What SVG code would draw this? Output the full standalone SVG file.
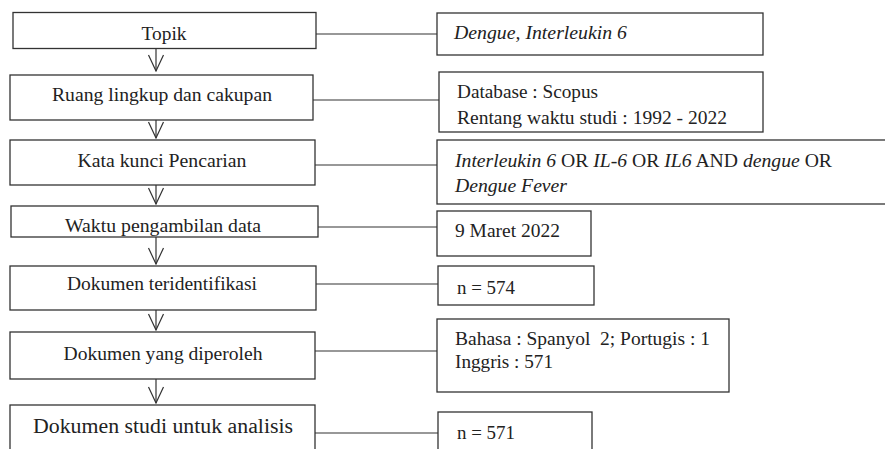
<svg xmlns="http://www.w3.org/2000/svg" width="885" height="449" viewBox="0 0 885 449">
<style>
.b{fill:#fff;stroke:#333;stroke-width:1.3}
.c line{stroke:#333;stroke-width:1.2}
text{font-family:"Liberation Serif","Times New Roman",serif;font-size:19.5px;fill:#222}
.m{text-anchor:middle}
.i{font-style:italic}
</style>
<defs>
<marker id="v" markerUnits="userSpaceOnUse" markerWidth="18" markerHeight="18" viewBox="-17 -9 18 18" refX="0" refY="0" orient="auto">
<path d="M-16,-7.5 L0,0 L-16,7.5" fill="none" stroke="#333" stroke-width="1.2"/>
</marker>
</defs>
<rect width="885" height="449" fill="#fff"/>
<g class="c">
<line x1="156" y1="49" x2="156" y2="71" marker-end="url(#v)"/>
<line x1="156" y1="120" x2="156" y2="138" marker-end="url(#v)"/>
<line x1="156" y1="185" x2="156" y2="204" marker-end="url(#v)"/>
<line x1="156" y1="229" x2="156" y2="264" marker-end="url(#v)"/>
<line x1="156" y1="310" x2="156" y2="330" marker-end="url(#v)"/>
<line x1="156" y1="379" x2="156" y2="403" marker-end="url(#v)"/>
<line x1="316" y1="34" x2="437" y2="34"/>
<line x1="313" y1="100" x2="439" y2="100"/>
<line x1="313" y1="165" x2="437" y2="165"/>
<line x1="318" y1="227" x2="437" y2="227"/>
<line x1="316" y1="284" x2="438" y2="284"/>
<line x1="315" y1="351" x2="437" y2="351"/>
<line x1="315" y1="433" x2="438" y2="433"/>
</g>
<g id="n1"><rect class="b" x="13" y="12.5" width="303" height="36"/><text class="m" x="164" y="40" textLength="45" lengthAdjust="spacingAndGlyphs">Topik</text></g>
<g id="n2"><rect class="b" x="10" y="75" width="303" height="45"/><text class="m" x="162" y="101" textLength="220" lengthAdjust="spacingAndGlyphs">Ruang lingkup dan cakupan</text></g>
<g id="n3"><rect class="b" x="10" y="140" width="305" height="45"/><text class="m" x="162" y="167" textLength="169" lengthAdjust="spacingAndGlyphs">Kata kunci Pencarian</text></g>
<g id="n4"><rect class="b" x="11" y="206" width="307" height="31"/><text class="m" x="163" y="232" textLength="196" lengthAdjust="spacingAndGlyphs">Waktu pengambilan data</text></g>
<g id="n5"><rect class="b" x="10" y="266" width="306" height="44"/><text class="m" x="162" y="290" textLength="190" lengthAdjust="spacingAndGlyphs">Dokumen teridentifikasi</text></g>
<g id="n6"><rect class="b" x="10" y="332" width="305" height="47"/><text class="m" x="163" y="360" textLength="199" lengthAdjust="spacingAndGlyphs">Dokumen yang diperoleh</text></g>
<g id="n7"><rect class="b" x="10" y="405" width="305" height="60"/><text class="m" x="163" y="433" style="font-size:20.5px" textLength="260" lengthAdjust="spacingAndGlyphs">Dokumen studi untuk analisis</text></g>
<g id="r1"><rect class="b" x="437" y="13" width="326" height="42"/><text class="i" x="454" y="39" textLength="173" lengthAdjust="spacingAndGlyphs">Dengue, Interleukin 6</text></g>
<g id="r2"><rect class="b" x="439" y="72" width="324" height="60"/><text x="457" y="98" textLength="141" lengthAdjust="spacingAndGlyphs">Database : Scopus</text><text x="457" y="124" textLength="270" lengthAdjust="spacingAndGlyphs">Rentang waktu studi : 1992 - 2022</text></g>
<g id="r3"><rect class="b" x="437" y="140" width="460" height="64"/><text x="455" y="167" textLength="377" lengthAdjust="spacingAndGlyphs"><tspan class="i">Interleukin 6</tspan> OR <tspan class="i">IL-6</tspan> OR <tspan class="i">IL6</tspan> AND <tspan class="i">dengue</tspan> OR</text><text class="i" x="455" y="192" textLength="112" lengthAdjust="spacingAndGlyphs">Dengue Fever</text></g>
<g id="r4"><rect class="b" x="437" y="211" width="154" height="45"/><text x="455" y="237" textLength="105" lengthAdjust="spacingAndGlyphs">9 Maret 2022</text></g>
<g id="r5"><rect class="b" x="438" y="266" width="156" height="39"/><text x="457" y="294" textLength="58" lengthAdjust="spacingAndGlyphs">n = 574</text></g>
<g id="r6"><rect class="b" x="437" y="319" width="292" height="73"/><text x="455" y="345" textLength="255" lengthAdjust="spacingAndGlyphs">Bahasa : Spanyol&#160; 2; Portugis : 1</text><text x="455" y="368" textLength="98" lengthAdjust="spacingAndGlyphs">Inggris : 571</text></g>
<g id="r7"><rect class="b" x="438" y="412" width="154" height="50"/><text x="457" y="439" textLength="58" lengthAdjust="spacingAndGlyphs">n = 571</text></g>
</svg>
